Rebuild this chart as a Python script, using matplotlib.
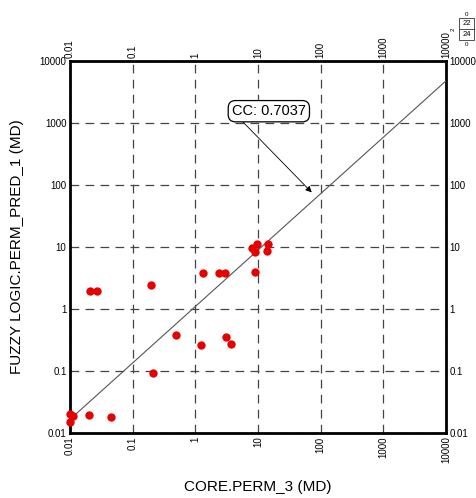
"""
Crossplot of core permeability vs fuzzy logic predicted permeability
"""

import numpy as np
import matplotlib.pyplot as plt
from matplotlib.patches import Rectangle
from matplotlib.ticker import NullLocator

# Sample data (mD)
core_perm = [0.010, 0.0113, 0.010, 0.020, 0.0447, 0.021, 0.027, 0.195, 0.208,
             0.49, 1.23, 1.31, 2.42, 2.95, 3.1, 3.77, 8.07, 9.5, 8.9, 8.9,
             14.4, 13.7]
pred_perm = [0.0204, 0.0187, 0.015, 0.0196, 0.018, 1.96, 1.96, 2.47, 0.094,
             0.375, 0.26, 3.8, 3.8, 3.8, 0.35, 0.27, 9.6, 11.2, 8.2, 3.9,
             11.2, 8.7]

# Regression line (log-log): log10(y) = a + b*log10(x)
fit_intercept = 0.04
fit_slope = 0.91
cc_value = 0.7037

decades = [0.01, 0.1, 1, 10, 100, 1000, 10000]
decade_labels = ['0.01', '0.1', '1', '10', '100', '1000', '10000']

plt.rcParams['font.family'] = ['Liberation Sans', 'DejaVu Sans']

fig = plt.figure(figsize=(4.77, 4.98), dpi=100)
ax = fig.add_axes([70 / 477, 1 - 433 / 498, 376 / 477, 372 / 498])

ax.set_xscale('log')
ax.set_yscale('log')
ax.set_xlim(0.01, 10000)
ax.set_ylim(0.01, 10000)

# Grid
ax.set_xticks(decades)
ax.set_xticklabels(decade_labels)
ax.set_yticks(decades)
ax.set_yticklabels(decade_labels)
ax.xaxis.set_minor_locator(NullLocator())
ax.yaxis.set_minor_locator(NullLocator())
ax.grid(True, color='#444444', linestyle=(0, (7, 5)), linewidth=0.9)

# Regression line
xl = np.array([0.01, 10000])
yl = 10 ** (fit_intercept + fit_slope * np.log10(xl))
ax.plot(xl, yl, color='#555555', linewidth=0.8, zorder=3)

# Points
ax.plot(core_perm, pred_perm, 'o', color='#e60000', markersize=6,
        markeredgewidth=0, zorder=4, clip_on=False)

# Correlation annotation
ax.annotate(
    f'CC: {cc_value:.4f}',
    xy=(72, 76), xytext=(14.9, 1550),
    ha='center', va='center', fontsize=10.5,
    bbox=dict(boxstyle='round,pad=0.25,rounding_size=0.5', facecolor='white',
              edgecolor='black', linewidth=0.9),
    arrowprops=dict(arrowstyle='-|>', color='black', lw=0.6,
                    mutation_scale=9, relpos=(0.1, 0.0), shrinkA=0, shrinkB=0),
    zorder=6,
)

# Ticks on all four sides
ax.tick_params(which='both', length=0, labelsize=7, pad=2.5,
               top=True, right=True, labeltop=True, labelright=True)
ax.tick_params(axis='x', labelrotation=90)

for spine in ax.spines.values():
    spine.set_linewidth(2.0)

ax.set_xlabel('CORE.PERM_3 (MD)', fontsize=11, labelpad=12)
ax.set_ylabel('FUZZY LOGIC.PERM_PRED_1 (MD)', fontsize=11, labelpad=11)
ax.xaxis.set_label_position('bottom')
ax.yaxis.set_label_position('left')

# Small count box in top right corner
bx, bw = 459 / 477, 15 / 477
btop, bmid, bbot = 1 - 18 / 498, 1 - 29 / 498, 1 - 40 / 498
fig.patches.append(Rectangle((bx, bbot), bw, btop - bbot, transform=fig.transFigure,
                             fill=False, edgecolor='#333333', linewidth=0.6))
fig.lines.append(plt.Line2D([bx, bx + bw], [bmid, bmid], transform=fig.transFigure,
                            color='#333333', linewidth=0.6))
fig.text(bx + bw / 2, (btop + bmid) / 2, '22', fontsize=5.5, ha='center', va='center')
fig.text(bx + bw / 2, (bmid + bbot) / 2, '24', fontsize=5.5, ha='center', va='center')
fig.text(bx + bw / 2, btop + 0.008, '0', fontsize=4.5, ha='center', va='center')
fig.text(bx + bw / 2, bbot - 0.009, '0', fontsize=4.5, ha='center', va='center')
fig.text(bx - 0.012, bmid, '2', fontsize=4.5, ha='center', va='center', rotation=90)

fig.savefig('out.png', dpi=100)
